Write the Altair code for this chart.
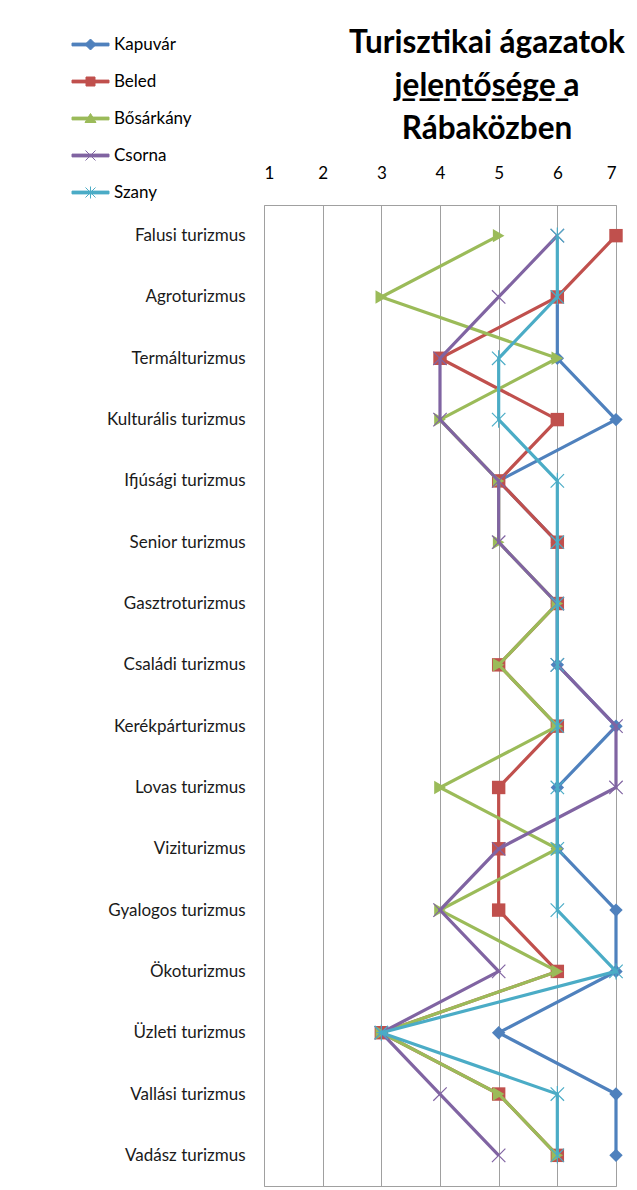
import altair as alt
import pandas as pd

categories = [
    "Falusi turizmus", "Agroturizmus", "Termálturizmus", "Kulturális turizmus",
    "Ifjúsági turizmus", "Senior turizmus", "Gasztroturizmus", "Családi turizmus",
    "Kerékpárturizmus", "Lovas turizmus", "Viziturizmus", "Gyalogos turizmus",
    "Ökoturizmus", "Üzleti turizmus", "Vallási turizmus", "Vadász turizmus",
]
series_names = ["Kapuvár", "Beled", "Bősárkány", "Csorna", "Szany"]
kapuvar = [None, 6, 6, 7, 5, 6, 6, 6, 7, 6, 6, 7, 7, 5, 7, 7]
beled = [7, 6, 4, 6, 5, 6, 6, 5, 6, 5, 5, 5, 6, 3, 5, 6]
bosarkany = [5, 3, 6, 4, 5, 5, 6, 5, 6, 4, 6, 4, 6, 3, 5, 6]
csorna = [6, 5, 4, 4, 5, 5, 6, 6, 7, 7, 5, 4, 5, 3, 4, 5]
szany = [6, 6, 5, 5, 6, 6, 6, 6, 6, 6, 6, 6, 7, 3, 6, 6]
tick_values = [1, 2, 3, 4, 5, 6, 7]

colors = ["#4F81BD", "#C0504D", "#9BBB59", "#8064A2", "#4BACC6"]
plot_shapes = [
    "diamond",
    "square",
    "triangle-right",
    "M-1,-1L1,1M-1,1L1,-1",
    "M-1,-1L1,1M-1,1L1,-1M0,-1.2L0,1.2",
]
plot_filled = [True, True, True, False, False]
legend_paths = [
    "M-1.85,-0.14L1.85,-0.14L1.85,0.14L-1.85,0.14ZM0,-0.55L0.55,0L0,0.55L-0.55,0Z",
    "M-1.85,-0.14L1.85,-0.14L1.85,0.14L-1.85,0.14ZM-0.45,-0.45L0.45,-0.45L0.45,0.45L-0.45,0.45Z",
    "M-1.85,-0.14L1.85,-0.14L1.85,0.14L-1.85,0.14ZM0,-0.5L0.55,0.4L-0.55,0.4Z",
    "M-1.85,-0.14L1.85,-0.14L1.85,0.14L-1.85,0.14ZM-0.5,-0.5L0.5,0.5M-0.5,0.5L0.5,-0.5",
    "M-1.85,-0.14L1.85,-0.14L1.85,0.14L-1.85,0.14ZM-0.5,-0.5L0.5,0.5M-0.5,0.5L0.5,-0.5M0,-0.6L0,0.6",
]

rows = []
for name, vals in zip(series_names, [kapuvar, beled, bosarkany, csorna, szany]):
    for i, (cat, v) in enumerate(zip(categories, vals)):
        if v is not None:
            rows.append({"series": name, "category": cat, "idx": i, "value": v})
df = pd.DataFrame(rows)

FONT = "Lato"


def make_legend():
    return alt.Legend(
        orient="none", legendX=-184, legendY=-171, title=None,
        symbolSize=400, symbolStrokeWidth=1, labelOffset=13, rowPadding=18,
        labelFont=FONT, labelFontSize=17, labelColor="#000000", padding=0,
        symbolOpacity=1,
    )


def sc(rng):
    return alt.Scale(domain=series_names, range=rng)


x_enc = alt.X(
    "value:Q",
    scale=alt.Scale(domain=[1, 7], nice=False, zero=False),
    axis=alt.Axis(orient="top", values=tick_values, title=None, ticks=False, domain=False,
                  labelPadding=23, grid=True, gridColor="#a0a0a0", gridWidth=1,
                  labelFont=FONT, labelFontSize=17, labelColor="#000000", format="d"),
)
y_enc = alt.Y(
    "category:N", sort=categories,
    scale=alt.Scale(type="point", padding=0.5),
    axis=alt.Axis(title=None, ticks=False, domain=False, labelPadding=19, grid=False,
                  labelFont=FONT, labelFontSize=17, labelColor="#1a1a1a"),
)

base = alt.Chart(df)
layers = []
for name, shp, fil in zip(series_names, plot_shapes, plot_filled):
    sub = base.transform_filter(alt.datum.series == name)
    layers.append(
        sub.mark_line(strokeWidth=3.2).encode(
            x=x_enc, y=y_enc,
            color=alt.Color("series:N", scale=sc(colors), legend=None),
            order=alt.Order("idx:Q"),
        )
    )
    layers.append(
        sub.mark_point(size=180, shape=shp, filled=fil, strokeWidth=1.2, opacity=1).encode(
            x=x_enc, y=y_enc,
            color=alt.Color("series:N", scale=sc(colors), legend=None),
        )
    )

legend_layer = base.transform_filter("false").mark_point(opacity=1, strokeWidth=1).encode(
    x=x_enc, y=y_enc,
    fill=alt.Fill("series:N", scale=sc(colors), legend=make_legend()),
    stroke=alt.Stroke("series:N", scale=sc(colors), legend=make_legend()),
    shape=alt.Shape("series:N", scale=sc(legend_paths), legend=make_legend()),
)

title_lines = ["Turisztikai ágazatok", "j̲e̲l̲e̲n̲t̲ő̲s̲é̲g̲e̲ a", "Rábaközben"]

chart = alt.layer(*layers, legend_layer).resolve_scale(
    fill="independent", stroke="independent", shape="independent"
).properties(
    width=352, height=981,
    autosize="none",
    padding={"left": 256, "top": 197, "right": 13, "bottom": 2},
    title=alt.TitleParams(
        text=title_lines, font=FONT, fontSize=31.5, fontWeight="bold", color="#000000",
        anchor="middle", dx=47, offset=0, dy=111, baseline="top", lineHeight=43,
    ),
).configure_view(stroke="#a0a0a0", strokeWidth=1)

chart.save("out.html", embed_options={"renderer": "svg", "actions": False})
